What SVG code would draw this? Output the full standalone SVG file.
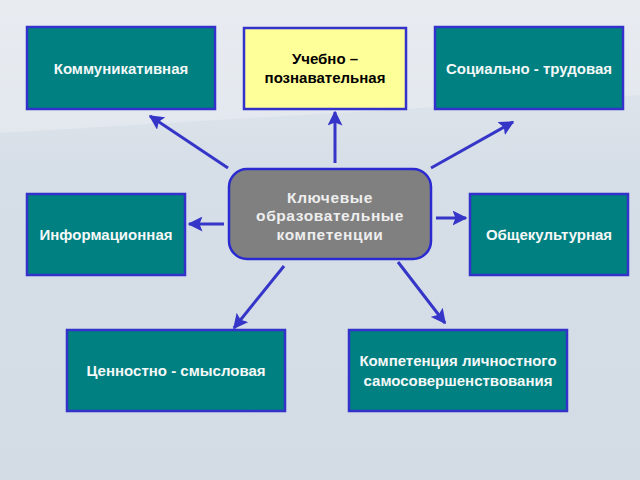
<svg xmlns="http://www.w3.org/2000/svg" width="640" height="480" viewBox="0 0 640 480">
<defs>
<linearGradient id="bg" x1="0" y1="0" x2="0" y2="1">
<stop offset="0" stop-color="#e6ebf0"/>
<stop offset="0.35" stop-color="#d6dee7"/>
<stop offset="1" stop-color="#d3dbe5"/>
</linearGradient>
<marker id="ah" viewBox="0 0 10 10" refX="9" refY="5" markerWidth="5" markerHeight="5" orient="auto" markerUnits="strokeWidth">
<path d="M0,0 L10,5 L0,10 L2,5 z" fill="#3535c8"/>
</marker>
<style>
.box{fill:#008080;stroke:#3333cc;stroke-width:2.5}
.yel{fill:#ffff99;stroke:#3333cc;stroke-width:2.5}
.ctr{fill:#808080;stroke:#2a2ad0;stroke-width:2.5}
.t{font-family:"Liberation Sans",Arial,sans-serif;font-weight:bold;font-size:15px;fill:#f4f8f8;text-anchor:middle}
.tb{font-family:"Liberation Sans",Arial,sans-serif;font-weight:bold;font-size:15px;fill:#000000;text-anchor:middle}
.tc{font-family:"Liberation Sans",Arial,sans-serif;font-weight:bold;font-size:15.5px;fill:#eeeeee;text-anchor:middle;letter-spacing:0.6px}
.c{stroke:#3535c8;stroke-width:3;fill:none;marker-end:url(#ah)}
</style>
</defs>
<rect width="640" height="480" fill="url(#bg)"/>
<polygon points="0,0 640,0 640,95 0,133" fill="#e9edf1" opacity="0.6"/>
<g id="connectors">
<line class="c" x1="228" y1="168" x2="150" y2="116"/>
<line class="c" x1="335" y1="163" x2="335" y2="112"/>
<line class="c" x1="431" y1="168" x2="513" y2="122"/>
<line class="c" x1="224" y1="224" x2="189" y2="224"/>
<line class="c" x1="436" y1="218" x2="466" y2="218"/>
<line class="c" x1="284" y1="266" x2="234" y2="328"/>
<line class="c" x1="398" y1="262" x2="445" y2="323"/>
</g>
<g id="n-komm"><rect class="box" x="27" y="27" width="188" height="82"/><text class="t" x="121" y="74">Коммуникативная</text></g>
<g id="n-ucheb"><rect class="yel" x="244" y="28" width="162" height="81"/><text class="tb" x="325" y="64">Учебно –</text><text class="tb" x="325" y="83">познавательная</text></g>
<g id="n-soc"><rect class="box" x="435" y="27" width="188" height="82"/><text class="t" x="529" y="74">Социально - трудовая</text></g>
<g id="n-inf"><rect class="box" x="27" y="194" width="158" height="81"/><text class="t" x="106" y="240">Информационная</text></g>
<g id="n-center"><rect class="ctr" x="229" y="169" width="202" height="90" rx="18"/><text class="tc" x="330" y="203">Ключевые</text><text class="tc" x="330" y="221">образовательные</text><text class="tc" x="330" y="240">компетенции</text></g>
<g id="n-obsh"><rect class="box" x="470" y="194" width="158" height="81"/><text class="t" x="549" y="240">Общекультурная</text></g>
<g id="n-cenn"><rect class="box" x="67" y="330" width="218" height="81"/><text class="t" x="176" y="376">Ценностно - смысловая</text></g>
<g id="n-komp"><rect class="box" x="349" y="330" width="218" height="81"/><text class="t" x="458" y="366">Компетенция личностного</text><text class="t" x="458" y="386">самосовершенствования</text></g>
</svg>
